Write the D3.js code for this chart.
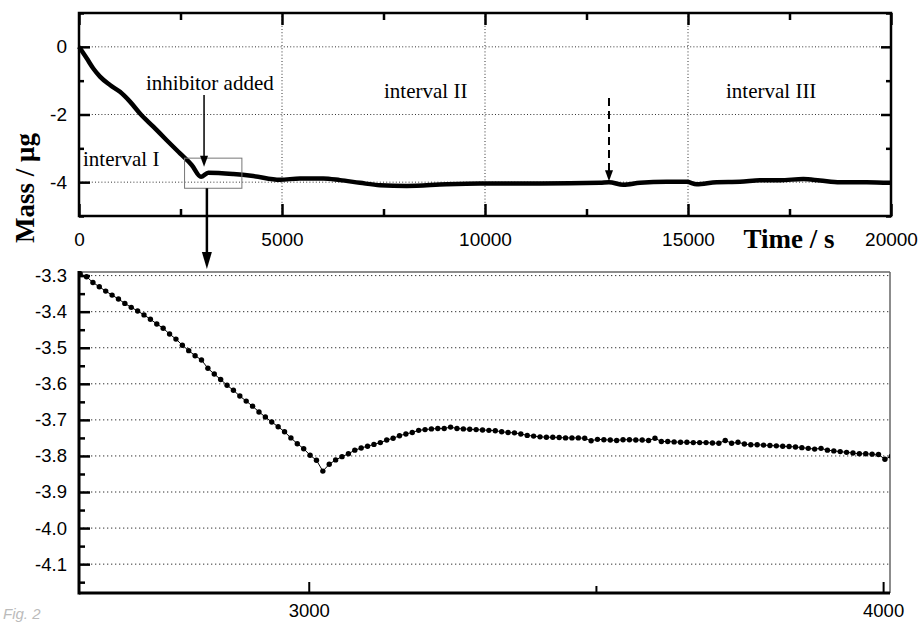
<!DOCTYPE html>
<html>
<head>
<meta charset="utf-8">
<script src="https://cdn.jsdelivr.net/npm/d3@7"></script>
<style>
  body { margin: 0; background: #fff; }
  svg { display: block; }
</style>
</head>
<body>
<script>
// overview curve (time in s, mass in µg)
const topTime = [0, 190, 352, 517, 764, 1010, 1256, 1502, 1830, 2160, 2488, 2776, 3005, 3185, 3800, 4293, 4950,
  5443, 6017, 6430, 6922, 7414, 8070, 9056, 9877, 11355, 12832, 13054, 13407, 13818, 14475, 14967, 15214,
  15706, 16280, 16773, 17266, 17840, 18251, 18744, 19400, 20000];
const topMass = [0, -0.34, -0.64, -0.88, -1.13, -1.33, -1.62, -1.97, -2.36, -2.76, -3.15, -3.49, -3.84, -3.72, -3.76, -3.82, -3.93,
  -3.89, -3.89, -3.94, -4.02, -4.09, -4.11, -4.06, -4.04, -4.04, -4.02, -4.00, -4.08, -4.02, -3.99, -3.99, -4.06,
  -4.00, -3.99, -3.94, -3.94, -3.91, -3.95, -4.00, -4.00, -4.02];

const topXMajor = [0, 5000, 10000, 15000, 20000];
const topXMinor = [2500, 7500, 12500, 17500];
const topYMajor = [0, -2, -4];
const topYMinor = [1, -1, -3, -5];
const topGridX = [5000, 10000, 15000];

// zoomed part, one sample every ~11 s
const zoomStart = 2602, zoomStep = 11.12;
const zoomMass = [
  -3.295, -3.303, -3.319, -3.331, -3.343, -3.354, -3.365, -3.377, -3.388, -3.398,
  -3.409, -3.421, -3.434, -3.446, -3.462, -3.476, -3.493, -3.508, -3.522, -3.534,
  -3.557, -3.573, -3.588, -3.604, -3.618, -3.634, -3.648, -3.662, -3.678, -3.692,
  -3.706, -3.719, -3.733, -3.750, -3.766, -3.780, -3.798, -3.812, -3.842, -3.823,
  -3.811, -3.802, -3.794, -3.784, -3.778, -3.773, -3.768, -3.763, -3.756, -3.751,
  -3.744, -3.739, -3.735, -3.729, -3.727, -3.725, -3.724, -3.724, -3.720, -3.724,
  -3.725, -3.726, -3.727, -3.728, -3.729, -3.730, -3.733, -3.735, -3.736, -3.739,
  -3.743, -3.745, -3.747, -3.748, -3.748, -3.749, -3.750, -3.750, -3.750, -3.751,
  -3.758, -3.754, -3.755, -3.756, -3.757, -3.755, -3.755, -3.756, -3.756, -3.757,
  -3.751, -3.760, -3.760, -3.761, -3.762, -3.762, -3.763, -3.763, -3.763, -3.764,
  -3.765, -3.757, -3.765, -3.762, -3.767, -3.769, -3.769, -3.770, -3.771, -3.772,
  -3.773, -3.774, -3.775, -3.777, -3.779, -3.781, -3.779, -3.784, -3.786, -3.788,
  -3.790, -3.792, -3.794, -3.794, -3.795, -3.796, -3.809, -3.801];

const zoomYMajor = [-3.3, -3.4, -3.5, -3.6, -3.7, -3.8, -3.9, -4.0, -4.1];
const zoomYMinor = [-3.35, -3.45, -3.55, -3.65, -3.75, -3.85, -3.95, -4.05, -4.15];
const zoomXMajor = [3000, 4000];
const zoomXMinor = [3500];

const W = 919, H = 623;
const sans = "'Liberation Sans', Arial, Helvetica, sans-serif";
const serif = "'Liberation Serif', 'Times New Roman', serif";

let svg = d3.select("body").append("svg")
    .attr("width", W).attr("height", H);
svg.append("rect").attr("width", W).attr("height", H).attr("fill", "#fff");

// ---------- top panel ----------
let x1 = d3.scaleLinear().domain([0, 20000]).range([79, 891]);
let y1 = d3.scaleLinear().domain([-5, 1]).range([216, 13]);

let g1 = svg.append("g");

g1.selectAll(".hgrid").data(topYMajor).join("line")
    .attr("x1", x1(0)).attr("x2", x1(20000))
    .attr("y1", d => y1(d)).attr("y2", d => y1(d))
    .attr("stroke", "#333").attr("stroke-width", 1).attr("stroke-dasharray", "1,2.2");
g1.selectAll(".vgrid").data(topGridX).join("line")
    .attr("x1", d => x1(d)).attr("x2", d => x1(d))
    .attr("y1", y1(1)).attr("y2", y1(-5))
    .attr("stroke", "#333").attr("stroke-width", 1).attr("stroke-dasharray", "1,2.2");

function styleAxis(sel, width) {
    sel.select(".domain").remove();
    sel.selectAll(".tick line").attr("stroke", "#000").attr("stroke-width", width);
    sel.selectAll(".tick text").attr("fill", "#000");
}

g1.append("g").attr("transform", `translate(${x1(0)},0)`)
    .call(d3.axisLeft(y1).tickValues(topYMajor).tickSize(-11).tickPadding(12).tickFormat(d => String(d)))
    .call(s => styleAxis(s, 2.5))
    .selectAll("text").style("font", `19px ${sans}`);
g1.append("g").attr("transform", `translate(${x1(0)},0)`)
    .call(d3.axisLeft(y1).tickValues(topYMinor).tickSize(-5).tickFormat(""))
    .call(s => styleAxis(s, 2.5));
g1.append("g").attr("transform", `translate(${x1(20000)},0)`)
    .call(d3.axisRight(y1).tickValues(topYMajor).tickSize(-10).tickFormat(""))
    .call(s => styleAxis(s, 2.5));
g1.append("g").attr("transform", `translate(${x1(20000)},0)`)
    .call(d3.axisRight(y1).tickValues(topYMinor).tickSize(-5).tickFormat(""))
    .call(s => styleAxis(s, 2.5));
g1.append("g").attr("transform", `translate(0,${y1(-5)})`)
    .call(d3.axisBottom(x1).tickValues(topXMajor).tickSize(-12).tickPadding(17).tickFormat(d => String(d)))
    .call(s => styleAxis(s, 2.5))
    .selectAll("text").style("font", `19px ${sans}`);
g1.append("g").attr("transform", `translate(0,${y1(-5)})`)
    .call(d3.axisBottom(x1).tickValues(topXMinor).tickSize(-7).tickFormat(""))
    .call(s => styleAxis(s, 2.5));
g1.append("g").attr("transform", `translate(0,${y1(1)})`)
    .call(d3.axisTop(x1).tickValues(topXMajor).tickSize(-12).tickFormat(""))
    .call(s => styleAxis(s, 2.5));
g1.append("g").attr("transform", `translate(0,${y1(1)})`)
    .call(d3.axisTop(x1).tickValues(topXMinor).tickSize(-7).tickFormat(""))
    .call(s => styleAxis(s, 2.5));

g1.append("rect")
    .attr("x", x1(0)).attr("y", y1(1))
    .attr("width", x1(20000) - x1(0)).attr("height", y1(-5) - y1(1))
    .attr("fill", "none").attr("stroke", "#000").attr("stroke-width", 2.5);

let topLine = d3.line()
    .x((d, i) => x1(topTime[i]))
    .y(d => y1(d))
    .curve(d3.curveMonotoneX);
g1.append("path").datum(topMass)
    .attr("d", topLine)
    .attr("fill", "none").attr("stroke", "#000")
    .attr("stroke-width", 4.5).attr("stroke-linejoin", "round");

// ---------- bottom (zoom) panel ----------
let x2 = d3.scaleLinear().domain([2600, 4012]).range([79, 890]);
let y2 = d3.scaleLinear().domain([-4.18, -3.29]).range([593, 272]);

// box in top panel marking the zoomed window
g1.append("rect")
    .attr("x", x1(x2.domain()[0])).attr("y", y1(y2.domain()[1]))
    .attr("width", x1(x2.domain()[1]) - x1(x2.domain()[0]))
    .attr("height", y1(y2.domain()[0]) - y1(y2.domain()[1]))
    .attr("fill", "none").attr("stroke", "#777").attr("stroke-width", 1);

let g2 = svg.append("g");

g2.selectAll(".hgrid").data(zoomYMajor).join("line")
    .attr("x1", x2(2600)).attr("x2", x2(4012))
    .attr("y1", d => y2(d)).attr("y2", d => y2(d))
    .attr("stroke", "#333").attr("stroke-width", 1).attr("stroke-dasharray", "1.3,2.7");

// thin top/right frame
g2.append("line").attr("x1", x2(2600)).attr("x2", x2(4012)).attr("y1", y2(-3.29)).attr("y2", y2(-3.29))
    .attr("stroke", "#666").attr("stroke-width", 1.5);
g2.append("line").attr("x1", x2(4012)).attr("x2", x2(4012)).attr("y1", y2(-3.29)).attr("y2", y2(-4.18))
    .attr("stroke", "#666").attr("stroke-width", 1.5);

g2.append("g").attr("transform", `translate(${x2(2600)},0)`)
    .call(d3.axisLeft(y2).tickValues(zoomYMajor).tickSize(-11).tickPadding(12).tickFormat(d => d.toFixed(1)))
    .call(s => styleAxis(s, 2.5))
    .selectAll("text").style("font", `18.5px ${sans}`);
g2.append("g").attr("transform", `translate(${x2(2600)},0)`)
    .call(d3.axisLeft(y2).tickValues(zoomYMinor).tickSize(-6).tickFormat(""))
    .call(s => styleAxis(s, 2.5));
g2.append("g").attr("transform", `translate(0,${y2(-4.18)})`)
    .call(d3.axisBottom(x2).tickValues(zoomXMajor).tickSize(-11).tickPadding(11).tickFormat(d => String(d)))
    .call(s => styleAxis(s, 2))
    .selectAll("text").style("font", `18.5px ${sans}`);
g2.append("g").attr("transform", `translate(0,${y2(-4.18)})`)
    .call(d3.axisBottom(x2).tickValues(zoomXMinor).tickSize(-7).tickFormat(""))
    .call(s => styleAxis(s, 2));

// thick left/bottom frame
g2.append("line").attr("x1", x2(2600)).attr("x2", x2(2600)).attr("y1", y2(-3.29) - 1).attr("y2", y2(-4.18) + 1.5)
    .attr("stroke", "#000").attr("stroke-width", 3);
g2.append("line").attr("x1", x2(2600)).attr("x2", x2(4012)).attr("y1", y2(-4.18)).attr("y2", y2(-4.18))
    .attr("stroke", "#000").attr("stroke-width", 3);

svg.append("clipPath").attr("id", "zclip")
    .append("rect").attr("x", 79).attr("y", 268).attr("width", 811).attr("height", 326);

let zg = g2.append("g").attr("clip-path", "url(#zclip)");
let zoomLine = d3.line()
    .x((d, i) => x2(zoomStart + i * zoomStep))
    .y(d => y2(d));
zg.append("path").datum(zoomMass)
    .attr("d", zoomLine)
    .attr("fill", "none").attr("stroke", "#000").attr("stroke-width", 1);
zg.selectAll("circle").data(zoomMass).join("circle")
    .attr("cx", (d, i) => x2(zoomStart + i * zoomStep))
    .attr("cy", d => y2(d))
    .attr("r", 2.7).attr("fill", "#000");

// ---------- labels & annotations ----------
svg.append("text")
    .attr("transform", "translate(34,188) rotate(-90)")
    .attr("text-anchor", "middle")
    .style("font", `bold 27px ${serif}`)
    .text("Mass / μg");
svg.append("text")
    .attr("x", 789).attr("y", 248).attr("text-anchor", "middle")
    .style("font", `bold 27px ${serif}`)
    .text("Time / s");

let ann = [
    { t: "inhibitor added", x: 146, y: 90 },
    { t: "interval I", x: 83, y: 166 },
    { t: "interval II", x: 384, y: 98 },
    { t: "interval III", x: 726, y: 98 }
];
svg.selectAll(".ann").data(ann).join("text")
    .attr("x", d => d.x).attr("y", d => d.y)
    .style("font", `21px ${serif}`)
    .text(d => d.t);

function arrow(x, yFrom, yTo, w, headW, headH, dash) {
    svg.append("line").attr("x1", x).attr("x2", x).attr("y1", yFrom).attr("y2", yTo - headH + 1)
        .attr("stroke", "#000").attr("stroke-width", w)
        .attr("stroke-dasharray", dash || null);
    svg.append("path")
        .attr("d", `M${x},${yTo} L${x - headW / 2},${yTo - headH} L${x + headW / 2},${yTo - headH} Z`)
        .attr("fill", "#000");
}
arrow(x1(3080), 95, y1(-3.72) - 6, 1.5, 8, 11);
arrow(x1(3150), y1(y2.domain()[0]), 269, 2.5, 10, 17);
arrow(x1(13054), 98, y1(-4.0) - 1, 2, 8, 11, "8,5");

svg.append("text")
    .attr("x", 3).attr("y", 619)
    .attr("fill", "#bbb")
    .style("font", `italic 15px ${sans}`)
    .text("Fig. 2");
</script>
</body>
</html>
